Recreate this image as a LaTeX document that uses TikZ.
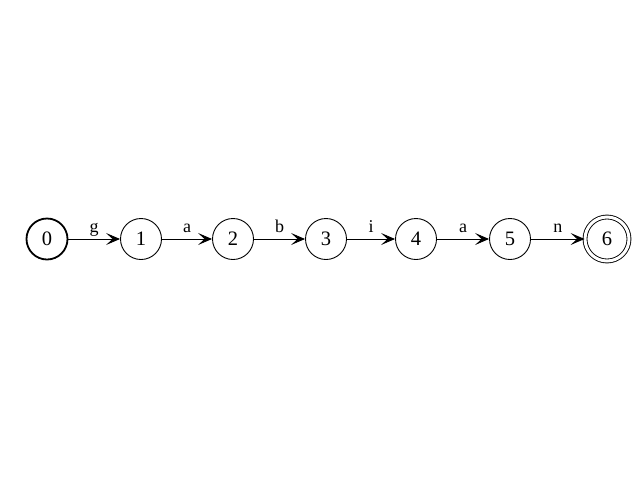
\documentclass[tikz,border=0pt]{standalone}
\usepackage{fontspec}
\setmainfont{Liberation Serif}
\usetikzlibrary{arrows.meta}
\begin{document}
\begin{tikzpicture}[x=1pt,y=-1pt,
  state/.style={circle,draw,line width=0.9pt,minimum size=41pt,inner sep=0pt,font=\fontsize{20.5}{22}\selectfont},
  initstate/.style={state,line width=1.8pt},
  accstate/.style={state,double,double distance=3pt,minimum size=44pt,line width=0.9pt},
  trans/.style={draw,line width=0.9pt,-{Stealth[length=14pt,width=12pt,inset=6.5pt]}},
  lbl/.style={font=\fontsize{18}{20}\selectfont,anchor=base,inner sep=0pt,yshift=7pt}]
\useasboundingbox (0,0) rectangle (640,480);
\node[initstate] (s0) at (47,239) {0};
\node[state] (s1) at (141,239) {1};
\node[state] (s2) at (233,239) {2};
\node[state] (s3) at (326,239) {3};
\node[state] (s4) at (416,239) {4};
\node[state] (s5) at (510,239) {5};
\node[accstate] (s6) at (607,239) {6};
\draw[trans] (s0) -- node[lbl]{g} (s1);
\draw[trans] (s1) -- node[lbl]{a} (s2);
\draw[trans] (s2) -- node[lbl]{b} (s3);
\draw[trans] (s3) -- node[lbl]{i} (s4);
\draw[trans] (s4) -- node[lbl]{a} (s5);
\draw[trans] (s5) -- node[lbl]{n} (s6);
\end{tikzpicture}
\end{document}
